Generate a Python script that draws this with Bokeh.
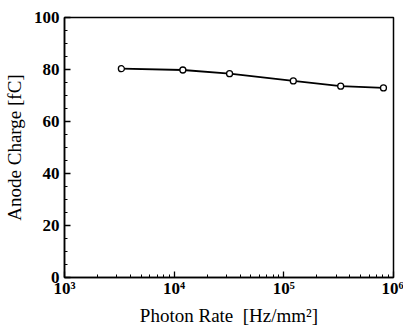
from bokeh.plotting import figure
from bokeh.embed import file_html
from bokeh.resources import INLINE
from bokeh.models import Range1d, FixedTicker

photon_rate = [3.3e3, 1.2e4, 3.2e4, 1.22e5, 3.3e5, 8.1e5]
anode_charge = [80.3, 79.8, 78.4, 75.6, 73.6, 72.9]
x_ticks = [1e3, 1e4, 1e5, 1e6]
x_tick_labels = ["10³", "10⁴", "10⁵", "10⁶"]
y_ticks = [0, 20, 40, 60, 80, 100]

FONT = "Liberation Serif"

p = figure(width=403, height=328, x_axis_type="log", output_backend="svg",
           toolbar_location=None, x_range=Range1d(1e3, 1e6), y_range=Range1d(0, 100),
           min_border_left=64, min_border_right=10, min_border_top=17, min_border_bottom=51)

p.xgrid.visible = False
p.ygrid.visible = False
p.outline_line_color = "black"
p.outline_line_width = 1.5

p.line(photon_rate, anode_charge, line_color="black", line_width=1.8)
p.scatter(photon_rate, anode_charge, marker="circle", size=6, fill_color="white",
          line_color="black", line_width=1.3)

xa = p.xaxis[0]
xa.ticker.desired_num_ticks = 4
xa.major_label_overrides = {t: l for t, l in zip(x_ticks, x_tick_labels)}
xa.axis_label = "Photon Rate\u00a0\u00a0[Hz/mm²]"

ya = p.yaxis[0]
ya.ticker = FixedTicker(ticks=y_ticks, minor_ticks=[v for v in range(0, 101, 5)])
ya.axis_label = "Anode Charge [fC]"

for ax in (xa, ya):
    ax.axis_line_width = 1.5
    ax.major_tick_in = 6
    ax.major_tick_out = 0
    ax.minor_tick_in = 3
    ax.minor_tick_out = 0
    ax.major_tick_line_width = 1.3
    ax.minor_tick_line_width = 1
    ax.major_label_text_font = FONT
    ax.major_label_text_font_size = "17px"
    ax.major_label_text_font_style = "bold"
    ax.major_label_text_color = "black"
    ax.axis_label_text_font = FONT
    ax.axis_label_text_font_size = "19px"
    ax.axis_label_text_font_style = "normal"
    ax.axis_label_text_color = "black"

xa.major_label_standoff = 1
ya.major_label_standoff = 5
xa.axis_label_standoff = 4
ya.axis_label_standoff = 6

open("out.html", "w").write(file_html(p, INLINE))
